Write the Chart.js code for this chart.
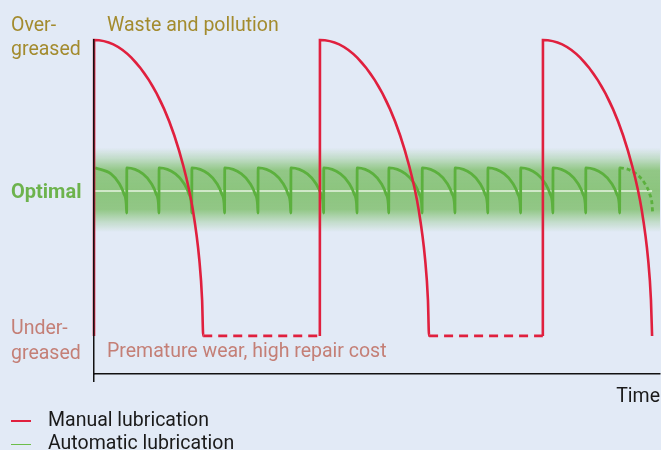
<!DOCTYPE html>
<html>
<head>
<meta charset="utf-8">
<script src="https://cdn.jsdelivr.net/npm/chart.js@4"></script>
<style>
  html, body { margin: 0; padding: 0; background: #e2eaf6; }
  #wrap { position: relative; width: 661px; height: 450px; overflow: hidden; font-family: Roboto, sans-serif; font-size: 19.5px; }
  #wrap canvas { position: absolute; left: 0; top: 0; }
  .lbl { position: absolute; line-height: 22px; white-space: nowrap; }
  .over { color: #a38b2e; }
  .under { color: #c47f76; }
  .key { position: absolute; left: 11px; width: 20px; height: 1.5px; }
</style>
</head>
<body>
<div id="wrap">
  <canvas id="lube-chart" width="661" height="450"></canvas>
  <div class="lbl over" style="left:11px; top:13px; line-height:23.5px;">Over-<br>greased</div>
  <div class="lbl over" style="left:107px; top:14px;">Waste and pollution</div>
  <div class="lbl" style="left:11px; top:180px; font-weight:bold; font-size:20px; color:#6db34d;">Optimal</div>
  <div class="lbl under" style="left:11px; top:316px; line-height:24.5px;">Under-<br>greased</div>
  <div class="lbl under" style="left:107px; top:340px;">Premature wear, high repair cost</div>
  <div class="lbl" style="right:1px; top:385px; color:#1a1a1a;">Time</div>
  <div class="key" style="top:420px; background:#e0203e;"></div>
  <div class="lbl" style="left:48px; top:409px; color:#1a1a1a;">Manual lubrication</div>
  <div class="key" style="top:443.5px; background:#6cbd4a;"></div>
  <div class="lbl" style="left:48px; top:432px; color:#1a1a1a;">Automatic lubrication</div>
</div>
<script>
// grease level 0..100 (top of axis = 100), time 0..100
const levelOver = 100;
const levelUnder = 11.4;
const levelOptimal = 54.8;
const bandTop = 67.7;
const bandBottom = 42.5;

// manual: refill times and the shape of one fall after a refill
const manualRefills = [0, 39.9, 79.3];
const manualFallTime = [0, 6.6, 12.4, 15.8, 17.5, 18.6, 19.1, 19.3];
const manualFallLevel = [100, 94.7, 79.3, 62.2, 48.8, 34.3, 22.2, 11.4];

// automatic: pulse times and the shape of one small fall (fraction of the gap)
const autoPulses = [0.2, 5.8, 11.5, 17.3, 23.1, 29.0, 34.8, 40.6, 46.5, 52.1, 58.0, 63.8, 69.6, 75.4, 81.1, 86.9, 92.9];
const autoFallTime = [0, 0.5, 0.77, 0.91, 0.98, 1];
const autoFallLevel = [61.7, 59.9, 56.9, 53.9, 51.0, 48.2];
const autoLastGap = 5.8;
const optimalEnd = 98.6;

// build the point lists from the arrays above
const manualPoints = [{ x: 0, y: levelUnder }];
manualRefills.forEach((t0, i) => {
    manualFallTime.forEach((dt, j) => {
        manualPoints.push({ x: t0 + dt + (j === 0 ? 0.02 : 0), y: manualFallLevel[j] });
    });
    const next = manualRefills[i + 1];
    if (next !== undefined) manualPoints.push({ x: next, y: levelUnder });
});

const autoPoints = [];
autoPulses.forEach((t0, i) => {
    const isLast = i === autoPulses.length - 1;
    const gap = isLast ? autoLastGap : autoPulses[i + 1] - t0;
    autoFallTime.forEach((f, j) => {
        const end = j === autoFallTime.length - 1 && !isLast;
        autoPoints.push({ x: t0 + f * gap - (end ? 0.03 : 0), y: autoFallLevel[j] });
    });
});
const lastPulse = autoPulses[autoPulses.length - 1];

// soft green band around the optimal level
function bandGradient(context) {
    const chart = context.chart;
    if (!chart.chartArea) return 'rgba(0,0,0,0)';
    const y = chart.scales.y;
    const g = chart.ctx.createLinearGradient(0, y.getPixelForValue(bandTop), 0, y.getPixelForValue(bandBottom));
    g.addColorStop(0, 'rgba(125,190,105,0)');
    g.addColorStop(0.12, 'rgba(125,190,105,0.3)');
    g.addColorStop(0.27, 'rgba(125,190,105,0.8)');
    g.addColorStop(0.5, 'rgba(125,190,105,0.85)');
    g.addColorStop(0.73, 'rgba(125,190,105,0.8)');
    g.addColorStop(0.88, 'rgba(125,190,105,0.3)');
    g.addColorStop(1, 'rgba(125,190,105,0)');
    return g;
}

const ctx = document.getElementById('lube-chart').getContext('2d');
const lubeChart = new Chart(ctx, {
    type: 'line',
    data: {
        datasets: [
            {
                label: 'Manual lubrication',
                data: manualPoints,
                borderColor: '#e0203e',
                borderWidth: 2.6,
                cubicInterpolationMode: 'monotone',
                clip: false,
                segment: {
                    borderDash: c => (c.p0.parsed.y === levelUnder && c.p1.parsed.y === levelUnder) ? [9, 6] : undefined
                }
            },
            {
                label: 'Automatic lubrication',
                data: autoPoints,
                borderColor: '#5cb03e',
                borderWidth: 2.8,
                cubicInterpolationMode: 'monotone',
                clip: false,
                segment: {
                    borderDash: c => c.p0.parsed.x >= lastPulse ? [4, 3] : undefined
                }
            },
            {
                label: 'Optimal',
                data: [{ x: 0, y: levelOptimal }, { x: optimalEnd, y: levelOptimal }],
                borderColor: 'rgba(240,248,235,0.9)',
                borderWidth: 1.5
            },
            {
                label: 'band top',
                data: [{ x: 0, y: bandTop }, { x: 100.2, y: bandTop }],
                borderWidth: 0,
                fill: false,
                clip: false
            },
            {
                label: 'band bottom',
                data: [{ x: 0, y: bandBottom }, { x: 100.2, y: bandBottom }],
                borderWidth: 0,
                backgroundColor: bandGradient,
                fill: '-1',
                clip: false
            }
        ]
    },
    options: {
        responsive: false,
        animation: false,
        layout: { padding: { left: 94, right: 1, top: 40, bottom: 68 } },
        elements: { point: { radius: 0, hoverRadius: 0 } },
        scales: {
            x: {
                type: 'linear',
                min: 0,
                max: 100,
                border: { display: true, color: '#111', width: 1.5, z: 1 },
                grid: { display: true, drawOnChartArea: false, drawTicks: true, tickLength: 8, color: '#111', lineWidth: 1.5, z: 1 },
                ticks: { display: false },
                afterBuildTicks: s => { s.ticks = [{ value: 0 }]; }
            },
            y: {
                min: 0,
                max: levelOver,
                border: { display: true, color: '#111', width: 1.5, z: 1 },
                grid: { display: false, drawTicks: false },
                ticks: { display: false }
            }
        },
        plugins: {
            legend: { display: false },
            tooltip: { enabled: false }
        }
    }
});
</script>
</body>
</html>
